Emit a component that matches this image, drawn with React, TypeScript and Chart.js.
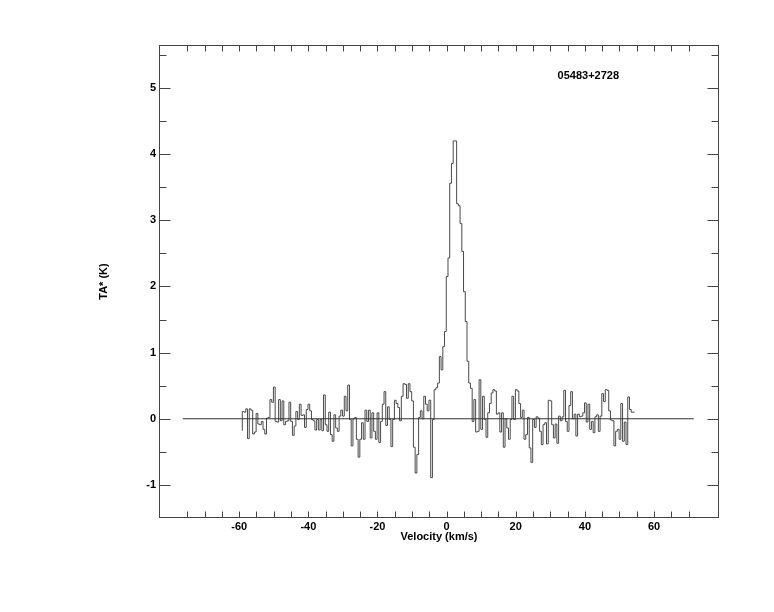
import React, { useEffect, useRef } from "react";
import { Chart, registerables } from "chart.js";

Chart.register(...registerables);

// ---- data ----
const SOURCE_NAME = "05483+2728";
const X_TITLE = "Velocity (km/s)";
const Y_TITLE = "TA* (K)";

// spectrum: first channel edge and channel width (km/s)
const V_START = -59.1;
const CHANNEL_WIDTH = 0.5;

// antenna temperature per channel (K)
const TA_WING_LEFT = [
  -0.18, 0.11, 0.1, 0.15, -0.3, 0.15, 0.13, -0.23, -0.2, 0.08,
  -0.08, -0.09, -0.04, -0.16, -0.23, 0.01, 0.02, 0.29, 0.25, 0.48,
  -0.04, -0.05, 0.29, -0.03, 0.27, -0.09, -0.04, -0.03, 0.25, -0.04,
  -0.25, -0.11, 0.11, -0.01, 0.22, 0.05, 0.06, -0.13, 0.14, 0.22,
  0.12, -0.01, -0.03, -0.17, -0.01, -0.17, -0.01, -0.18, 0.36, -0.09,
  -0.19, 0.1, -0.24, -0.34, 0.06, -0.14, -0.19, 0.04,
];
const TA_NEAR_LEFT = [
  0.13, 0.04, 0.34, 0.12, 0.51, -0.01, -0.41, 0.0, 0.02, -0.31,
  -0.58, -0.31, -0.06, -0.31, 0.13, -0.04, 0.13, -0.29, 0.09, -0.19,
  -0.31, 0.09, -0.36, -0.04, 0.22, 0.41, -0.1, 0.18, -0.01, -0.42,
  -0.01, 0.28, 0.23, 0.17, -0.03, 0.34, 0.53, 0.52, 0.31, 0.53,
  0.41, 0.27, -0.43, -0.82, -0.54, 0.02, 0.12, 0.0, 0.34, 0.22,
  0.12, 0.28, -0.89, -0.01, 0.44, 0.47, 0.54,
];
const TA_LINE = [
  0.94, 0.74, 1.09, 1.32, 2.15, 2.43, 3.56, 3.86, 4.2, 4.2,
  3.25, 3.22, 2.95, 2.53, 1.92, 1.47, 0.87, 0.54, 0.46, -0.04, 0.29,
];
const TA_WING_RIGHT = [
  -0.2, -0.19, 0.59, -0.16, 0.34, -0.01, -0.28, 0.09, 0.23, 0.39,
  0.44, 0.42, 0.07, 0.09, -0.2, 0.09, -0.43, 0.0, -0.14, -0.31,
  -0.01, 0.34, -0.01, 0.44, 0.42, 0.23, 0.02, 0.13, -0.31, -0.24,
  0.02, -0.44, -0.66, -0.01, -0.13, 0.03, 0.01, -0.19, -0.39, -0.09,
  -0.06, -0.38, 0.28, 0.27, -0.09, -0.29, -0.08, -0.37, 0.04, -0.03,
  0.03, 0.43, -0.04, -0.19, 0.2, 0.41, 0.0, 0.07, -0.26, 0.07,
  0.03, 0.04, 0.09, 0.24, -0.05, 0.22, -0.16, -0.04, -0.21, 0.03,
  0.06, -0.19, 0.04, 0.38, 0.26, 0.44, 0.43, 0.12, -0.02, -0.03,
  -0.41, -0.19, -0.16, -0.31, 0.23, -0.34, -0.05, -0.39, 0.33, 0.14,
  0.1,
];

// zero baseline extent (km/s)
const BASELINE_FROM = -76.3;
const BASELINE_TO = 71.5;

// axes
const X_MIN = -83.2;
const X_MAX = 78.8;
const Y_MIN = -1.5;
const Y_MAX = 5.65;
const X_TICK_LABELS = [-60, -40, -20, 0, 20, 40, 60];
const X_TICK_MARKS = [
  -75, -70, -65, -60, -55, -50, -45, -40, -35, -30, -25, -20, -15, -10, -5,
  0, 5, 10, 15, 20, 25, 30, 35, 40, 45, 50, 55, 60, 65, 70,
];
const Y_TICK_LABELS = [-1, 0, 1, 2, 3, 4, 5];
const Y_MINOR_MARKS = [-0.5, 0.5, 1.5, 2.5, 3.5, 4.5, 5.5];

// source name placement (data coordinates)
const SOURCE_AT_V = 41.0;
const SOURCE_AT_T = 5.18;

const FONT_FAMILY = '"Liberation Sans", Arial, Helvetica, sans-serif';

export default function App() {
  const canvasRef = useRef<HTMLCanvasElement | null>(null);

  useEffect(() => {
    const canvas = canvasRef.current;
    if (!canvas) return;

    const ta = [...TA_WING_LEFT, ...TA_NEAR_LEFT, ...TA_LINE, ...TA_WING_RIGHT];
    const spectrum = ta.map((t, i) => ({ x: V_START + i * CHANNEL_WIDTH, y: t }));
    spectrum.push({ x: V_START + ta.length * CHANNEL_WIDTH, y: ta[ta.length - 1] });

    const framePlugin = {
      id: "frameTicks",
      afterDraw(chart: any) {
        const { ctx, chartArea: a, scales } = chart;
        const xs = scales.x;
        const ys = scales.y;
        ctx.save();
        ctx.strokeStyle = "#444";
        ctx.lineWidth = 1;
        const line = (x1: number, y1: number, x2: number, y2: number) => {
          ctx.beginPath();
          ctx.moveTo(x1, y1);
          ctx.lineTo(x2, y2);
          ctx.stroke();
        };
        const L = Math.round(a.left) + 0.5;
        const R = Math.round(a.right) - 0.5;
        const T = Math.round(a.top) + 0.5;
        const B = Math.round(a.bottom) - 0.5;
        ctx.strokeRect(L, T, R - L, B - T);
        X_TICK_MARKS.forEach((v) => {
          const px = Math.round(xs.getPixelForValue(v)) + 0.5;
          line(px, B, px, B - 6);
          line(px, T, px, T + 6);
        });
        Y_TICK_LABELS.forEach((v) => {
          const py = Math.round(ys.getPixelForValue(v)) + 0.5;
          line(L, py, L + 11, py);
          line(R, py, R - 11, py);
        });
        Y_MINOR_MARKS.forEach((v) => {
          const py = Math.round(ys.getPixelForValue(v)) + 0.5;
          line(L, py, L + 7, py);
          line(R, py, R - 7, py);
        });
        ctx.fillStyle = "#000";
        ctx.font = `bold 11px ${FONT_FAMILY}`;
        ctx.textAlign = "center";
        ctx.textBaseline = "middle";
        ctx.fillText(SOURCE_NAME, xs.getPixelForValue(SOURCE_AT_V), ys.getPixelForValue(SOURCE_AT_T));
        ctx.restore();
      },
    };

    const font = { family: FONT_FAMILY, size: 11, weight: "bold" as const };

    const chart = new Chart(canvas, {
      type: "line",
      data: {
        datasets: [
          {
            data: [
              { x: BASELINE_FROM, y: 0 },
              { x: BASELINE_TO, y: 0 },
            ],
            borderColor: "#333",
            borderWidth: 1,
            pointRadius: 0,
            fill: false,
          },
          {
            data: spectrum,
            borderColor: "#4a4a4a",
            borderWidth: 1,
            pointRadius: 0,
            stepped: "after",
            fill: false,
          },
        ],
      },
      options: {
        animation: false,
        responsive: false,
        devicePixelRatio: 1,
        layout: { padding: { top: 45, right: 55, left: 0, bottom: 0 } },
        plugins: {
          legend: { display: false },
          tooltip: { enabled: false },
        },
        scales: {
          x: {
            type: "linear",
            min: X_MIN,
            max: X_MAX,
            afterBuildTicks: (axis: any) => {
              axis.ticks = X_TICK_LABELS.map((v) => ({ value: v }));
            },
            afterFit: (s: any) => {
              s.height = 94;
            },
            grid: { display: false, drawTicks: false },
            border: { display: false },
            ticks: {
              padding: 2,
              font,
              color: "#000",
              maxRotation: 0,
              autoSkip: false,
            },
            title: {
              display: true,
              text: X_TITLE,
              font,
              color: "#000",
              padding: { top: 0, bottom: 68 },
            },
          },
          y: {
            type: "linear",
            min: Y_MIN,
            max: Y_MAX,
            afterBuildTicks: (axis: any) => {
              axis.ticks = Y_TICK_LABELS.map((v) => ({ value: v }));
            },
            afterFit: (s: any) => {
              s.width = 159;
            },
            grid: { display: false, drawTicks: false },
            border: { display: false },
            ticks: {
              padding: 3,
              font,
              color: "#000",
              autoSkip: false,
            },
            title: {
              display: true,
              text: Y_TITLE,
              font,
              color: "#000",
              padding: { top: 97, bottom: 0 },
            },
          },
        },
      },
      plugins: [framePlugin],
    });

    return () => chart.destroy();
  }, []);

  return (
    <div style={{ position: "absolute", left: 0, top: 0, width: 774, height: 612, background: "#fff" }}>
      <canvas ref={canvasRef} width={774} height={612} style={{ width: 774, height: 612, display: "block" }} />
    </div>
  );
}
